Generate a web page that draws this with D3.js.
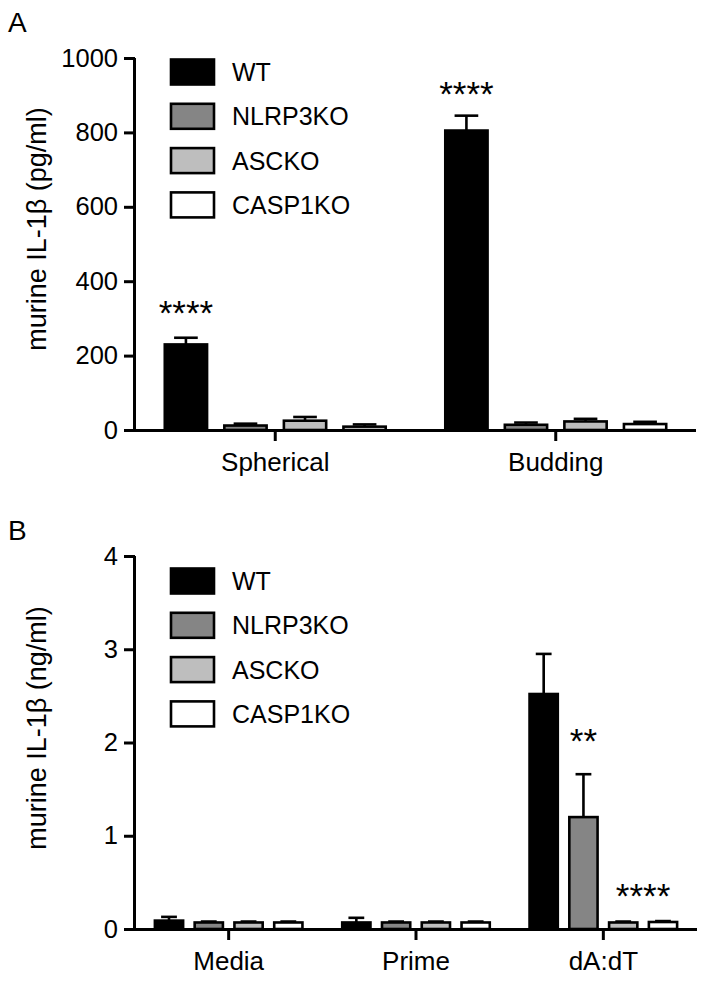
<!DOCTYPE html>
<html>
<head>
<meta charset="utf-8">
<script src="https://cdn.jsdelivr.net/npm/d3@7"></script>
<style>
  html, body { margin: 0; padding: 0; background: #fff; }
  svg text { font-family: "Liberation Sans", Arial, Helvetica, sans-serif; fill: #000; }
</style>
</head>
<body>
<svg id="chart" width="706" height="981"></svg>
<script>
// ---------- DATA ----------
const series = ["WT", "NLRP3KO", "ASCKO", "CASP1KO"];
const seriesColors = ["#000000", "#858585", "#bebebe", "#ffffff"];

// Panel A: murine IL-1β (pg/ml)
const catsA = ["Spherical", "Budding"];
const meanA_WT      = [230, 805];
const meanA_NLRP3KO = [12, 14];
const meanA_ASCKO   = [25, 23];
const meanA_CASP1KO = [9, 16];
const semA_WT      = [18, 40];
const semA_NLRP3KO = [5, 6];
const semA_ASCKO   = [10, 7];
const semA_CASP1KO = [6, 6];
const ticksA = [0, 200, 400, 600, 800, 1000];
// significance marks: category, series over which they sit, label, height (data units) of their centre
const starsA = [
  {cat: "Spherical", s: "WT", label: "****", at: 330},
  {cat: "Budding",   s: "WT", label: "****", at: 918}
];

// Panel B: murine IL-1β (ng/ml)
const catsB = ["Media", "Prime", "dA:dT"];
const meanB_WT      = [0.09, 0.07, 2.52];
const meanB_NLRP3KO = [0.07, 0.07, 1.20];
const meanB_ASCKO   = [0.07, 0.07, 0.07];
const meanB_CASP1KO = [0.07, 0.07, 0.075];
const semB_WT      = [0.04, 0.05, 0.43];
const semB_NLRP3KO = [0.01, 0.01, 0.46];
const semB_ASCKO   = [0.01, 0.01, 0.01];
const semB_CASP1KO = [0.01, 0.01, 0.01];
const ticksB = [0, 1, 2, 3, 4];
const starsB = [
  {cat: "dA:dT", s: "NLRP3KO", label: "**", at: 2.07},
  {cat: "dA:dT", s: "ASCKO+CASP1KO", label: "****", at: 0.41}
];

// ---------- DRAW ----------
const svg = d3.select("#chart");
const FONT = "'Liberation Sans', Arial, Helvetica, sans-serif";

function buildRows(cats, means, sems) {
  const rows = [];
  cats.forEach((c, ci) => {
    series.forEach((s, si) => {
      rows.push({cat: c, s: s, color: seriesColors[si], v: means[si][ci], e: sems[si][ci]});
    });
  });
  return rows;
}

function panel(opts) {
  const g = svg.append("g");
  const x0 = d3.scaleBand().domain(opts.cats).range([opts.left, opts.right]).paddingInner(0).paddingOuter(0);
  const x1 = d3.scaleBand().domain(series).range([0, x0.bandwidth()]).paddingInner(0.29).paddingOuter(0.5);
  const y = d3.scaleLinear().domain(opts.domain).range([opts.bottom, opts.top]);
  const rows = buildRows(opts.cats, opts.means, opts.sems);
  const bw = x1.bandwidth();

  // error bars (upper only)
  const eb = g.append("g").attr("stroke", "#000").attr("stroke-width", 2.6).attr("fill", "none");
  rows.forEach(d => {
    const cx = x0(d.cat) + x1(d.s) + bw / 2;
    eb.append("line").attr("x1", cx).attr("x2", cx).attr("y1", y(d.v)).attr("y2", y(d.v + d.e));
    eb.append("line").attr("x1", cx - bw * 0.28).attr("x2", cx + bw * 0.28)
      .attr("y1", y(d.v + d.e)).attr("y2", y(d.v + d.e));
  });

  // bars
  g.append("g").selectAll("rect").data(rows).join("rect")
    .attr("x", d => x0(d.cat) + x1(d.s))
    .attr("y", d => y(d.v))
    .attr("width", bw)
    .attr("height", d => y(0) - y(d.v))
    .attr("fill", d => d.color)
    .attr("stroke", "#000")
    .attr("stroke-width", 2.6);

  // y axis
  const ya = g.append("g").attr("transform", `translate(${opts.left},0)`)
    .call(d3.axisLeft(y).tickValues(opts.ticks).tickSize(11).tickPadding(6).tickFormat(d3.format("d")));
  ya.select(".domain").attr("stroke-width", 3).attr("d", `M-0.5,${opts.top}V${opts.bottom}`);
  ya.selectAll(".tick line").attr("stroke-width", 3);
  ya.selectAll(".tick text").attr("font-size", 25.5).style("font-family", FONT);

  // x axis
  const xa = g.append("g").attr("transform", `translate(0,${opts.bottom})`)
    .call(d3.axisBottom(x0).tickSize(11).tickPadding(12));
  xa.select(".domain").attr("stroke-width", 3).attr("d", `M${opts.left - 2},0.5H${opts.right}`);
  xa.selectAll(".tick line").attr("stroke-width", 3);
  xa.selectAll(".tick text").attr("font-size", 26).attr("dy", "0.71em").style("font-family", FONT);

  // y title
  g.append("text")
    .attr("transform", `translate(${opts.titleX},${opts.titleY}) rotate(-90)`)
    .attr("text-anchor", "middle")
    .attr("font-size", 27)
    .text(opts.title);

  // panel letter
  g.append("text").attr("x", 8).attr("y", opts.letterY).attr("font-size", 28).text(opts.letter);

  // legend
  const lg = g.append("g");
  series.forEach((s, i) => {
    const cy = opts.legendY + i * 44.3;
    lg.append("rect").attr("x", 171).attr("y", cy - 12.5).attr("width", 43).attr("height", 25)
      .attr("fill", seriesColors[i]).attr("stroke", "#000").attr("stroke-width", 2.6);
    lg.append("text").attr("x", 232).attr("y", cy + 9).attr("font-size", 25).text(s);
  });

  // significance stars
  opts.stars.forEach(st => {
    let cx;
    if (st.s.includes("+")) {
      const [a, b] = st.s.split("+");
      cx = x0(st.cat) + (x1(a) + x1(b) + bw) / 2;
    } else {
      cx = x0(st.cat) + x1(st.s) + bw / 2;
    }
    g.append("text").attr("x", cx).attr("y", y(st.at) + 0.5 * 35)
      .attr("text-anchor", "middle").attr("font-size", 35).text(st.label);
  });
}

panel({
  cats: catsA,
  means: [meanA_WT, meanA_NLRP3KO, meanA_ASCKO, meanA_CASP1KO],
  sems: [semA_WT, semA_NLRP3KO, semA_ASCKO, semA_CASP1KO],
  domain: [0, 1000], ticks: ticksA,
  left: 135, right: 696, top: 58, bottom: 430,
  title: "murine IL-1β (pg/ml)", titleX: 46, titleY: 229,
  letter: "A", letterY: 32, legendY: 72,
  stars: starsA
});

panel({
  cats: catsB,
  means: [meanB_WT, meanB_NLRP3KO, meanB_ASCKO, meanB_CASP1KO],
  sems: [semB_WT, semB_NLRP3KO, semB_ASCKO, semB_CASP1KO],
  domain: [0, 4], ticks: ticksB,
  left: 135, right: 697, top: 556, bottom: 929,
  title: "murine IL-1β (ng/ml)", titleX: 46, titleY: 728,
  letter: "B", letterY: 540, legendY: 581,
  stars: starsB
});
</script>
</body>
</html>
